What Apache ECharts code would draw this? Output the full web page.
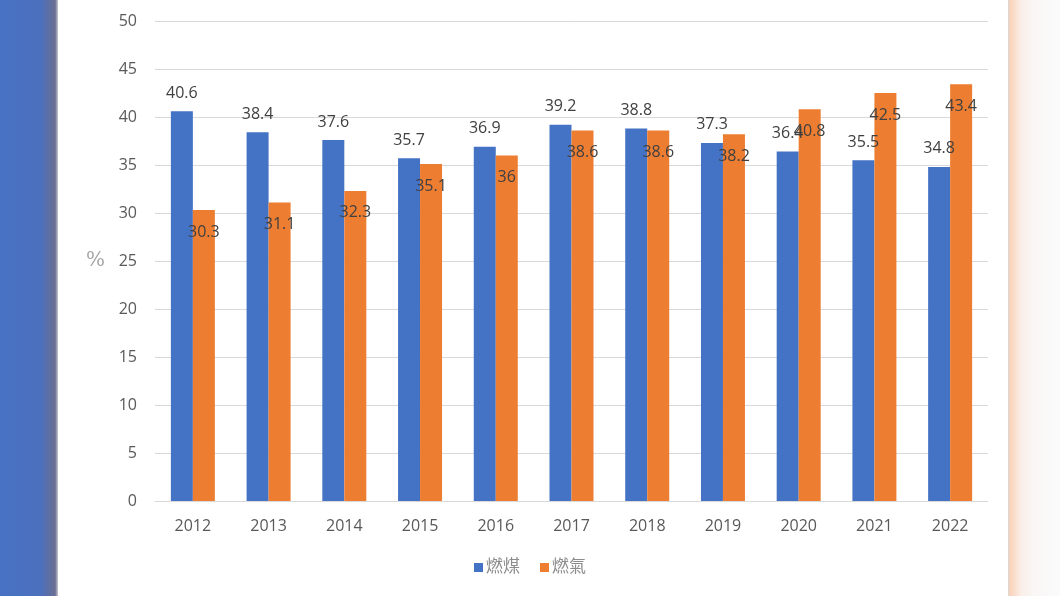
<!DOCTYPE html>
<html>
<head>
<meta charset="utf-8">
<script src="https://cdn.jsdelivr.net/npm/echarts@6/dist/echarts.min.js"></script>
<style>
html,body{margin:0;padding:0;background:#fff;}
#chart{width:1060px;height:596px;}
</style>
</head>
<body>
<div id="chart"></div>
<script>
var years = ['2012','2013','2014','2015','2016','2017','2018','2019','2020','2021','2022'];
var coal = [40.6, 38.4, 37.6, 35.7, 36.9, 39.2, 38.8, 37.3, 36.4, 35.5, 34.8];
var gas = [30.3, 31.1, 32.3, 35.1, 36, 38.6, 38.6, 38.2, 40.8, 42.5, 43.4];
var seriesNames = ['燃煤', '燃氣'];

var font = '"Open Sans", "Noto Sans CJK TC", sans-serif';

var option = {
    animation: false,
    backgroundColor: '#ffffff',
    textStyle: { fontFamily: font },
    grid: { left: 155, right: 72, top: 21, bottom: 95 },
    graphic: [
        {
            type: 'rect', left: 0, top: 0, z: -10,
            shape: { width: 58, height: 596 },
            style: {
                fill: new echarts.graphic.LinearGradient(0, 0, 1, 0, [
                    { offset: 0, color: '#4872c4' },
                    { offset: 0.7, color: '#4b70bd' },
                    { offset: 0.95, color: '#6a6e92' },
                    { offset: 1, color: '#c8c8d0' }
                ])
            }
        },
        {
            type: 'rect', left: 1008, top: 0, z: -10,
            shape: { width: 52, height: 596 },
            style: {
                fill: new echarts.graphic.LinearGradient(0, 0, 1, 0, [
                    { offset: 0, color: '#d8d8d8' },
                    { offset: 0.04, color: '#fad2b8' },
                    { offset: 0.25, color: '#faeee8' },
                    { offset: 0.5, color: '#f9f7f6' },
                    { offset: 1, color: '#fbfbfb' }
                ])
            }
        }
    ],
    legend: {
        bottom: 15,
        left: 'center',
        itemWidth: 9,
        itemHeight: 9,
        itemGap: 20,
        icon: 'rect',
        textStyle: { color: '#8c8c8c', fontSize: 17, fontFamily: font, padding: [0, 0, 0, -2] },
        data: seriesNames
    },
    xAxis: {
        type: 'category',
        data: years,
        axisLine: { lineStyle: { color: '#d9d9d9' } },
        axisTick: { show: false },
        axisLabel: { color: '#595959', fontSize: 16, margin: 17 }
    },
    yAxis: {
        type: 'value',
        min: 0,
        max: 50,
        interval: 5,
        name: '%',
        nameLocation: 'middle',
        nameRotate: 0,
        nameGap: 50,
        nameTextStyle: { color: '#a6a6a6', fontSize: 20, fontFamily: 'DejaVu Serif, serif' },
        axisLine: { show: false },
        axisTick: { show: false },
        axisLabel: { color: '#595959', fontSize: 16, margin: 18 },
        splitLine: { lineStyle: { color: '#d9d9d9' } }
    },
    series: [
        {
            name: seriesNames[0],
            type: 'bar',
            data: coal,
            barWidth: 22,
            barGap: '0%',
            itemStyle: { color: '#4472c4' },
            label: {
                show: true,
                position: 'top',
                distance: 10,
                color: '#404040',
                fontSize: 16
            }
        },
        {
            name: seriesNames[1],
            type: 'bar',
            data: gas,
            barWidth: 22,
            barGap: '0%',
            itemStyle: { color: '#ed7d31' },
            label: {
                show: true,
                position: 'insideTop',
                distance: 14,
                color: '#404040',
                fontSize: 16
            }
        }
    ]
};

var myChart = echarts.init(document.getElementById('chart'));
myChart.setOption(option);
</script>
</body>
</html>
